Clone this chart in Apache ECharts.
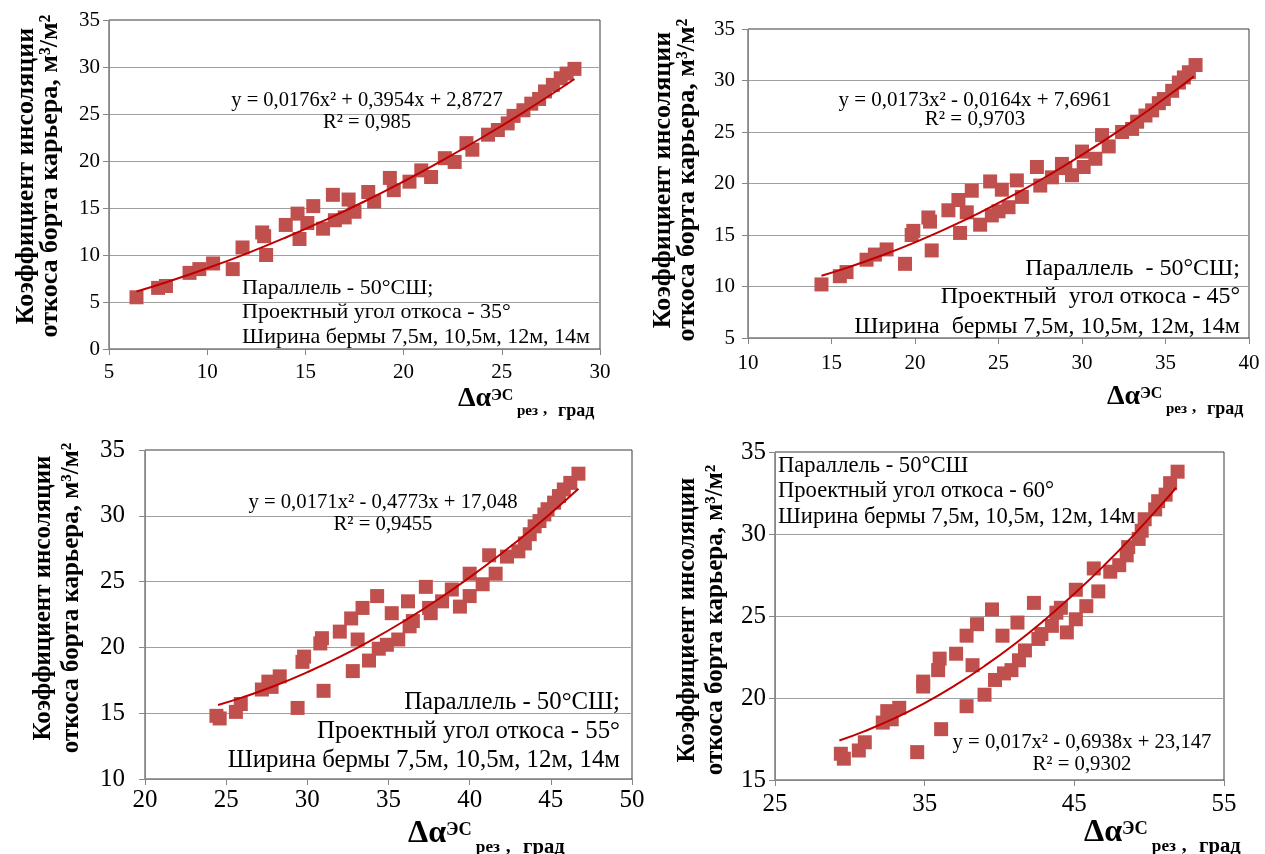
<!DOCTYPE html>
<html><head><meta charset="utf-8">
<script src="https://cdn.jsdelivr.net/npm/echarts@6/dist/echarts.min.js"></script>
<style>html,body{margin:0;padding:0;background:#fff}#c{width:1265px;height:854px}</style>
</head><body><div id="c"></div>
<script>
// ---- Panel 1: slope angle 35° ----
const x35 = [6.4,7.5,7.9,9.1,9.6,10.3,11.3,11.8,12.8,12.9,13.0,14.0,14.6,14.7,15.1,15.4,15.9,16.4,16.5,17.0,17.2,17.5,18.2,18.5,19.3,19.5,20.3,20.9,21.4,22.1,22.6,23.2,23.5,24.3,24.8,25.3,25.6,26.1,26.5,26.9,27.2,27.6,28.0,28.3,28.7];
const y35 = [5.5,6.5,6.7,8.1,8.5,9.1,8.5,10.8,12.4,12.0,10.0,13.2,14.4,11.7,13.4,15.2,12.8,16.4,13.7,14.0,15.9,14.6,16.7,15.7,18.2,16.9,17.8,19.0,18.3,20.3,19.9,21.9,21.2,22.8,23.3,24.0,24.8,25.4,26.1,26.6,27.4,28.1,28.8,29.3,29.8];
const trendX35 = [6.4,8,10,12,14,16,18,20,22,24,26,28,28.7];
const trendY35 = [6.12,7.16,8.59,10.15,11.86,13.71,15.69,17.82,20.09,22.50,25.05,27.74,28.72];
// ---- Panel 2: slope angle 45° ----
const x45 = [14.4,15.5,15.9,17.1,17.6,18.3,19.4,19.8,19.9,20.8,20.9,21.0,22.0,22.6,22.7,23.1,23.4,23.9,24.5,24.6,25.0,25.2,25.6,26.1,26.4,27.3,27.5,28.2,28.8,29.0,29.4,30.0,30.1,30.8,31.2,31.6,32.4,33.0,33.3,33.8,34.2,34.6,34.9,35.4,35.8,36.1,36.4,36.8];
const y45 = [10.2,11.0,11.4,12.6,13.1,13.6,12.2,15.0,15.4,16.7,16.3,13.5,17.4,18.4,15.2,17.2,19.3,16.0,20.2,16.9,17.3,19.4,17.7,20.3,18.7,21.6,19.8,20.6,21.9,21.5,20.8,23.1,21.6,22.4,24.7,23.6,25.0,25.3,26.0,26.6,27.1,27.8,28.2,29.0,29.8,30.3,30.8,31.5];
const trendX45 = [14.4,16,18,20,22,24,26,28,30,32,34,36,36.7];
const trendY45 = [11.05,11.86,13.01,14.29,15.71,17.27,18.97,20.80,22.77,24.89,27.14,29.53,30.40];
// ---- Panel 3: slope angle 55° ----
const x55 = [24.4,24.6,25.6,25.9,27.2,27.6,27.8,28.3,29.4,29.7,29.8,30.8,30.9,31.0,32.0,32.7,32.8,33.1,33.4,33.8,34.3,34.4,34.9,35.2,35.6,36.2,36.3,36.5,37.3,37.5,37.6,38.3,38.9,39.4,40.0,40.0,40.8,41.2,41.6,42.3,43.0,43.4,43.7,44.0,44.3,44.6,44.8,45.2,45.5,45.8,46.2,46.7];
const y55 = [14.8,14.6,15.1,15.7,16.8,17.4,17.0,17.8,15.4,18.9,19.3,20.3,20.7,16.7,21.2,22.2,18.2,20.6,23.0,19.0,23.9,19.9,20.2,22.6,20.6,23.5,21.6,22.0,24.6,23.0,22.6,23.5,24.4,23.1,23.9,25.6,24.8,27.0,25.6,26.9,27.3,27.9,28.6,29.2,29.6,30.1,30.5,31.0,31.5,32.0,32.5,33.2];
const trendX55 = [24.5,26,28,30,32,34,36,38,40,42,44,46,46.7];
const trendY55 = [15.62,16.20,17.09,18.12,19.28,20.59,22.03,23.60,25.32,27.17,29.15,31.28,32.05];
// ---- Panel 4: slope angle 60° ----
const x60 = [29.4,29.6,30.6,31.0,32.2,32.5,32.8,33.3,34.5,34.9,34.9,35.9,36.0,36.1,37.1,37.8,37.8,38.2,38.5,39.0,39.5,39.7,40.2,40.3,40.8,41.2,41.3,41.7,42.3,42.6,42.8,43.5,43.8,44.1,44.5,45.1,45.1,45.8,46.3,46.6,47.4,48.0,48.5,48.6,49.3,49.5,49.7,50.4,50.6,51.1,51.4,51.9];
const y60 = [16.6,16.3,16.8,17.3,18.5,19.2,18.7,19.4,16.7,20.7,21.0,21.7,22.4,18.1,22.7,23.8,19.5,22.0,24.5,20.2,25.4,21.1,23.8,21.5,21.7,24.6,22.3,22.9,25.8,23.6,23.9,24.4,25.2,25.5,24.0,24.8,26.6,25.6,27.9,26.5,27.7,28.1,28.7,29.2,29.7,30.2,30.9,31.5,32.0,32.4,33.1,33.8];
const trendX60 = [29.3,31,33,35,37,39,41,43,45,47,49,51,51.8];
const trendY60 = [17.41,17.98,18.77,19.69,20.75,21.95,23.28,24.75,26.35,28.09,29.97,31.98,32.82];

// ---- axis ranges ----
const xRanges = [[5,30,5],[10,40,5],[20,50,5],[25,55,10]];
const yRanges = [[0,35,5],[5,35,5],[10,35,5],[15,35,5]];

// ---- texts ----
const yTitle = 'Коэффициент инсоляции\nоткоса борта карьера, м³/м²';
const eqs = [
  ['y = 0,0176x² + 0,3954x + 2,8727','R² = 0,985'],
  ['y = 0,0173x² - 0,0164x + 7,6961','R² = 0,9703'],
  ['y = 0,0171x² - 0,4773x + 17,048','R² = 0,9455'],
  ['y = 0,017x² - 0,6938x + 23,147','R² = 0,9302']
];
const notes = [
  ['Параллель - 50°СШ;','Проектный угол откоса - 35°','Ширина бермы 7,5м, 10,5м, 12м, 14м'],
  ['Параллель  - 50°СШ;','Проектный  угол откоса - 45°','Ширина  бермы 7,5м, 10,5м, 12м, 14м'],
  ['Параллель - 50°СШ;','Проектный угол откоса - 55°','Ширина бермы 7,5м, 10,5м, 12м, 14м'],
  ['Параллель - 50°СШ','Проектный угол откоса - 60°','Ширина бермы 7,5м, 10,5м, 12м, 14м']
];

const SERIF = 'Liberation Serif';
const pairs = (xs, ys) => xs.map((x, i) => [x, ys[i]]);

const gridBoxes = [
  {left:109, top:20, width:491, height:329},
  {left:748, top:29, width:501, height:309},
  {left:145, top:450, width:487, height:329},
  {left:775, top:452, width:449, height:328}
];
const tickFont = [21,21,25,25];
const xMargin = [13,15,9,12];
const yMargin = [9,13,20,9];

const grid = gridBoxes.map(g => Object.assign({show:true, borderColor:'#3a3a3a', borderWidth:1, backgroundColor:'transparent'}, g));
const xAxis = xRanges.map((r,i) => ({
  type:'value', gridIndex:i, min:r[0], max:r[1], interval:r[2],
  axisLine:{show:true, onZero:false, lineStyle:{color:'#868686', width:1}},
  axisTick:{show:true, length:6, lineStyle:{color:'#868686'}},
  axisLabel:{fontFamily:SERIF, fontSize:tickFont[i], color:'#000', margin:xMargin[i]},
  splitLine:{show:false}
}));
const yAxis = yRanges.map((r,i) => ({
  type:'value', gridIndex:i, min:r[0], max:r[1], interval:r[2],
  axisLine:{show:true, onZero:false, lineStyle:{color:'#868686', width:1}},
  axisTick:{show:true, length:6, lineStyle:{color:'#868686'}},
  axisLabel:{fontFamily:SERIF, fontSize:tickFont[i], color:'#000', margin:yMargin[i]},
  splitLine:{show:true, showMinLine:false, showMaxLine:false, lineStyle:{color:'#a0a0a0', width:1}}
}));

const sets = [[x35,y35,trendX35,trendY35],[x45,y45,trendX45,trendY45],[x55,y55,trendX55,trendY55],[x60,y60,trendX60,trendY60]];
const series = [];
sets.forEach((s,i) => {
  series.push({type:'scatter', xAxisIndex:i, yAxisIndex:i, data:pairs(s[0],s[1]), symbol:'rect', symbolSize:14,
    itemStyle:{color:'#c0504d', opacity:1}, z:2, silent:true});
  series.push({type:'line', xAxisIndex:i, yAxisIndex:i, data:pairs(s[2],s[3]), smooth:true, symbol:'none', showSymbol:false,
    lineStyle:{color:'#c00000', width:2}, z:3, silent:true});
});

function txt(x, y, text, size, opts) {
  opts = opts || {};
  const align = opts.align || 'left';
  return {type:'text', x:x, y:y, rotation:opts.rotation || 0, silent:true, z:10,
    style:{text:text, fontFamily:SERIF, fontSize:size, fontWeight:opts.bold ? 'bold' : 'normal', fill:'#000',
      align:align, textAlign:align, verticalAlign:'middle', textVerticalAlign:'middle', lineHeight:opts.lh || size}};
}
const g = [];
// y-axis titles [cx, cy, size, lineHeight]
[[38,176,26,24],[675,180,26,24],[58,598,25,28],[702,620,25,28]].forEach(p => {
  g.push(txt(p[0], p[1], yTitle, p[2], {bold:true, align:'center', rotation:Math.PI/2, lh:p[3]}));
});
// x-axis titles  [left, center y, scale]
[[458,399,1],[1107,397,1],[408,834,1.15],[1084,833,1.15]].forEach(p => {
  const L = p[0], C = p[1], k = p[2];
  g.push(txt(L, C, 'Δα', 28*k, {bold:true}));
  g.push(txt(L+33*k, C-3*k, 'ЭС', 16*k, {bold:true}));
  g.push(txt(L+59*k, C+12*k, 'рез', 15*k, {bold:true}));
  g.push(txt(L+85*k, C+11*k, ',', 17*k, {bold:true}));
  g.push(txt(L+100*k, C+12*k, 'град', 18*k, {bold:true}));
});
// equations [center x, y line1, y line2, size]
[[367,101,123,20.5],[975,100,119,21],[383,503,525,20.7],[1082,743,765,20.7]].forEach((p,i) => {
  g.push(txt(p[0], p[1], eqs[i][0], p[3], {align:'center'}));
  g.push(txt(p[0], p[2], eqs[i][1], p[3], {align:'center'}));
});
// notes
const noteLayout = [
  {x:242, align:'left', ys:[288,312,337], size:22},
  {x:1240, align:'right', ys:[269,297,327], size:24},
  {x:620, align:'right', ys:[702,731,760], size:24.8},
  {x:778, align:'left', ys:[466,491,517], size:22.6}
];
noteLayout.forEach((n,i) => {
  notes[i].forEach((t,j) => g.push(txt(n.x, n.ys[j], t, n.size, {align:n.align})));
});

const chart = echarts.init(document.getElementById('c'), null, {renderer:'canvas'});
chart.setOption({animation:false, backgroundColor:'#fff', textStyle:{fontFamily:SERIF},
  grid:grid, xAxis:xAxis, yAxis:yAxis, series:series, graphic:{elements:g}});
</script></body></html>
